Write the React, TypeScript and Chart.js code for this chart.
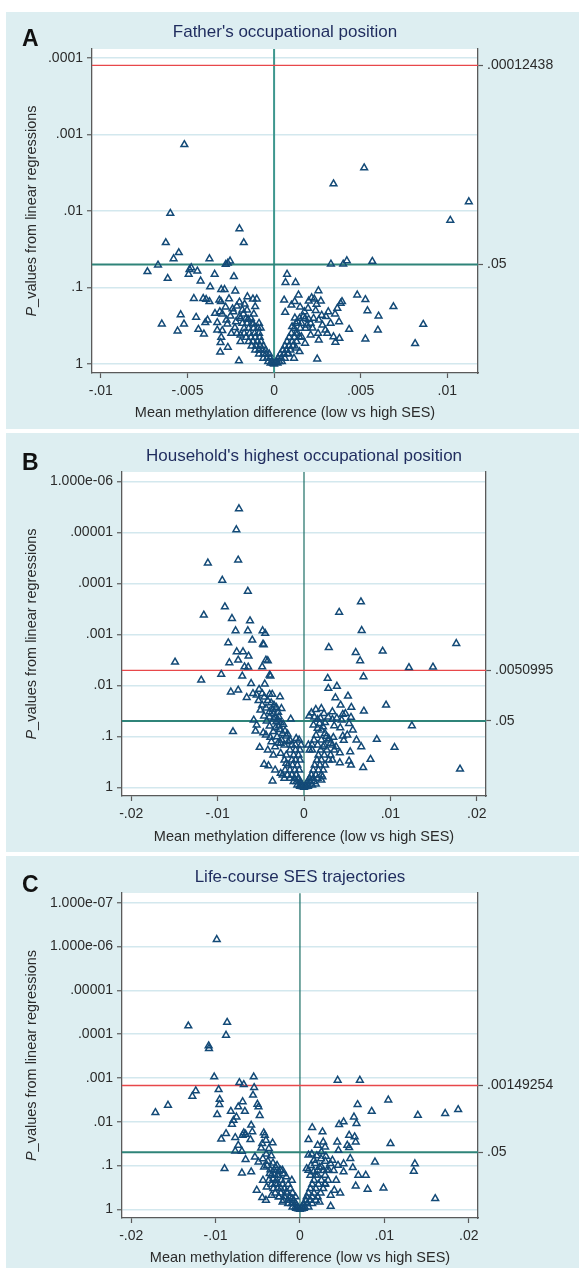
import React, { useEffect, useRef } from "react";
import { Chart, registerables } from "chart.js";
Chart.register(...registerables);

const FONT = '"Liberation Sans", Arial, Helvetica, sans-serif';
const PANEL_BG = "#ddeef1";
const GRID = "#d3e8ee";
const AXIS = "#5a5a5a";
const MARKER = "#134a77";
const RED = "#e8474a";
const GREEN = "#2f8479";
const TITLE_COLOR = "#1f2c5e";
const TEXT = "#2b2b2b";

// ---------- shared labels ----------
const yAxisTitleItalic = "P";
const yAxisTitleRest = "_values from linear regressions";
const xAxisTitle = "Mean methylation difference (low vs high SES)";
const greenP = 0.05;
const greenLabel = ".05";

// ---------- Panel A ----------
const aLetter = "A";
const aTitle = "Father's occupational position";
const aXTicks = [-0.01, -0.005, 0, 0.005, 0.01];
const aXTickLabels = ["-.01", "-.005", "0", ".005", ".01"];
const aYTicks = [1e-4, 1e-3, 1e-2, 1e-1, 1];
const aYTickLabels = [".0001", ".001", ".01", ".1", "1"];
const aRed = 0.00012438;
const aRedLabel = ".00012438";
// [mean difference in 1e-3 units, p-value]
const aPoints: [number, number][] = [
  [-5.18, 1.35e-3], [5.2, 2.72e-3], [3.43, 4.4e-3], [11.24, 7.55e-3], [10.17, 1.32e-2],
  [-5.99, 1.07e-2], [-2.0, 1.7e-2], [-1.75, 2.59e-2], [-6.25, 2.59e-2], [-5.5, 3.5e-2],
  [-5.8, 4.2e-2], [-3.73, 4.2e-2], [-6.7, 5.08e-2], [-7.31, 6.2e-2], [-2.54, 4.5e-2],
  [-2.79, 4.98e-2], [-2.67, 4.8e-2], [-4.78, 5.5e-2], [-4.88, 5.8e-2], [-4.43, 6.1e-2],
  [-4.93, 6.7e-2], [-3.43, 6.7e-2], [-6.14, 7.6e-2], [-2.32, 7.2e-2], [-4.24, 8.2e-2],
  [-3.69, 9.8e-2], [-3.05, 0.106], [-2.86, 0.106], [-2.24, 0.111], [-4.63, 0.139],
  [-4.09, 0.139], [-3.92, 0.143], [-3.73, 0.153], [-3.16, 0.146], [-3.07, 0.153],
  [-1.54, 0.132], [-1.22, 0.141], [-1.0, 0.141], [-2.15, 0.175], [-5.39, 0.227],
  [-4.5, 0.245], [-6.48, 0.3], [-5.2, 0.3], [-5.57, 0.37], [-4.37, 0.352],
  [-4.05, 0.405], [-3.11, 0.7], [-2.03, 0.91], [-2.67, 0.605], [-2.99, 0.366],
  [-3.09, 0.526], [-3.05, 0.448], [-3.41, 0.218], [-3.13, 0.207], [-2.99, 0.222],
  [-3.84, 0.266], [-3.97, 0.288], [-3.28, 0.288], [-3.28, 0.36], [-2.75, 0.266],
  [-2.52, 0.236], [-2.35, 0.207], [-1.83, 0.197], [-1.77, 0.222], [-1.56, 0.197],
  [-1.17, 0.222], [-1.09, 0.178], [-2.26, 0.335], [-2.15, 0.397], [-2.47, 0.397],
  [-1.94, 0.418], [-1.73, 0.397], [-1.94, 0.51], [-0.77, 0.34],
  [-2.6, 0.14], [-2.0, 0.155], [-1.7, 0.165], [-2.8, 0.18], [-2.4, 0.19],
  [-2.0, 0.24], [-1.5, 0.26], [-2.7, 0.3], [-2.2, 0.28], [-1.2, 0.3],
  [3.28, 4.93e-2], [3.99, 4.93e-2], [4.2, 4.46e-2], [5.67, 4.55e-2], [0.75, 6.7e-2],
  [0.66, 8.6e-2], [1.24, 8.6e-2], [2.56, 0.11], [0.58, 0.146], [1.41, 0.125],
  [1.19, 0.153], [2.17, 0.136], [2.32, 0.141], [2.45, 0.166], [0.64, 0.211],
  [4.8, 0.125], [5.27, 0.144], [5.39, 0.201], [6.89, 0.178], [6.03, 0.236],
  [5.99, 0.36], [5.27, 0.471], [8.61, 0.303], [8.14, 0.542], [4.33, 0.352],
  [3.84, 0.161], [3.92, 0.153], [3.65, 0.187], [3.52, 0.222], [3.75, 0.28],
  [3.43, 0.44], [3.77, 0.462], [3.54, 0.52], [2.49, 0.86], [3.13, 0.207],
  [3.26, 0.294], [2.96, 0.36], [2.79, 0.31], [2.58, 0.266], [1.75, 0.207],
  [1.96, 0.187], [1.68, 0.24], [1.36, 0.28], [1.9, 0.31], [2.22, 0.34],
  [2.75, 0.23], [1.04, 0.325], [1.26, 0.397], [1.58, 0.44], [2.11, 0.418],
  [1.79, 0.535], [1.26, 0.62], [1.15, 0.84], [0.83, 0.73], [1.47, 0.69],
  [2.54, 0.397], [3.07, 0.397], [2.58, 0.486],
  [1.0, 0.17], [1.5, 0.18], [2.0, 0.15], [2.7, 0.15], [1.2, 0.25],
  [2.4, 0.2], [3.0, 0.24], [2.0, 0.26],
  [0, 1.0], [-0.06, 0.98], [0.09, 0.96], [-0.2, 0.97], [0.2, 0.97],
];
// dense core: [p-value, mean differences in 1e-3 units]
const aCore: [number, number[]][] = [
  [0.93, [-0.34, -0.13, 0.15, 0.3, 0.45]],
  [0.84, [-0.62, -0.41, -0.23, 0.23, 0.41, 0.62]],
  [0.74, [-0.87, -0.62, -0.45, -0.28, 0.36, 0.58, 0.79]],
  [0.656, [-1.09, -0.87, -0.66, -0.49, 0.51, 0.72, 0.94]],
  [0.582, [-1.3, -1.04, -0.81, -0.62, 0.62, 0.87, 1.09]],
  [0.51, [-1.47, -1.22, -0.96, -0.75, 0.75, 1.04, 1.3]],
  [0.448, [-1.62, -1.34, -1.09, -0.83, 0.87, 1.17, 1.47]],
  [0.397, [-1.41, -1.13, -0.87, 1.0, 1.36]],
  [0.342, [-1.73, -1.47, -1.19, -0.92, 1.17, 1.51, 1.81]],
  [0.294, [-1.83, -1.56, -1.26, -0.87, 1.26, 1.58, 2.11]],
  [0.253, [-1.94, -1.62, -1.34, 1.47, 1.79, 2.28]],
];

// ---------- Panel B ----------
const bLetter = "B";
const bTitle = "Household's highest occupational position";
const bXTicks = [-0.02, -0.01, 0, 0.01, 0.02];
const bXTickLabels = ["-.02", "-.01", "0", ".01", ".02"];
const bYTicks = [1e-6, 1e-5, 1e-4, 1e-3, 1e-2, 1e-1, 1];
const bYTickLabels = ["1.000e-06", ".00001", ".0001", ".001", ".01", ".1", "1"];
const bRed = 0.0050995;
const bRedLabel = ".0050995";
const bPoints: [number, number][] = [
  [-7.53, 3.45e-6], [-7.83, 8.9e-6], [-7.62, 3.5e-5], [-11.13, 4.0e-5], [-9.46, 8.7e-5],
  [-6.5, 1.43e-4], [-9.16, 2.9e-4], [-11.6, 4.2e-4], [-8.34, 4.9e-4], [-6.25, 5.45e-4],
  [-7.92, 8.5e-4], [-6.5, 8.5e-4], [-4.79, 8.5e-4], [-4.49, 9.6e-4], [-5.99, 1.3e-3],
  [-8.77, 1.47e-3], [-4.75, 1.56e-3], [-4.66, 1.6e-3], [-7.79, 2.2e-3], [-7.06, 2.2e-3],
  [-6.42, 2.68e-3], [-7.62, 3.2e-3], [-4.41, 3.2e-3], [-4.19, 3.3e-3], [-8.64, 3.6e-3],
  [-14.93, 3.5e-3], [-6.89, 4.35e-3], [-6.46, 4.4e-3], [-4.84, 4.35e-3], [-9.58, 6.1e-3],
  [-7.15, 6.6e-3], [-3.98, 6.3e-3], [-3.89, 6.6e-3], [-11.9, 7.9e-3], [-6.12, 9.2e-3],
  [-4.54, 9.4e-3], [-8.47, 1.35e-2], [-7.62, 1.24e-2], [-6.63, 1.73e-2], [-5.91, 1.45e-2],
  [-5.48, 1.55e-2], [-4.84, 1.45e-2], [-3.98, 1.5e-2], [-3.68, 1.5e-2], [-2.78, 1.68e-2],
  [-5.26, 2.0e-2], [-4.84, 2.44e-2], [-3.47, 2.45e-2], [-3.21, 2.7e-2], [-2.61, 2.84e-2],
  [-5.05, 3.06e-2], [-3.98, 3.3e-2], [-3.55, 3.56e-2], [-4.62, 4.0e-2], [-3.34, 4.25e-2],
  [-2.91, 4.13e-2], [-1.54, 4.6e-2], [-5.82, 4.8e-2], [-4.32, 5.0e-2], [-3.21, 5.2e-2],
  [-2.7, 5.4e-2], [-5.48, 6.0e-2], [-3.98, 6.3e-2], [-2.91, 6.3e-2], [-5.61, 7.9e-2],
  [-4.71, 8.5e-2], [-3.55, 8.1e-2], [-2.48, 8.8e-2], [-8.22, 8.1e-2], [-4.41, 9.4e-2],
  [-3.12, 0.102], [-2.05, 0.099], [-0.9, 0.11], [-5.13, 0.165], [-4.19, 0.186],
  [-3.34, 0.16], [-2.27, 0.148], [-3.55, 0.233], [-2.7, 0.216], [-1.63, 0.186],
  [-4.62, 0.355], [-4.11, 0.377], [-3.64, 0.75], [-3.34, 0.458], [-2.7, 0.532],
  [-2.05, 0.339], [-1.41, 0.292], [-2.7, 0.137], [-3.77, 0.128], [-1.84, 0.128],
  [-0.98, 0.148],
  [-5.2, 1.2e-2], [-4.6, 1.7e-2], [-4.2, 2.0e-2], [-3.8, 2.2e-2], [-4.4, 2.8e-2],
  [-3.6, 3.0e-2], [-3.0, 3.4e-2], [-4.0, 4.2e-2], [-3.5, 4.6e-2], [-3.0, 4.8e-2],
  [-2.4, 5.8e-2], [-3.3, 6.8e-2], [-2.8, 7.4e-2], [-2.2, 7.9e-2], [-1.9, 0.09],
  [-3.9, 0.105], [-2.6, 0.118], [-1.6, 0.12], [-3.0, 0.135],
  [6.59, 2.31e-4], [4.07, 3.7e-4], [6.68, 8.4e-4], [17.63, 1.51e-3], [2.87, 1.81e-3],
  [5.99, 2.27e-3], [9.11, 2.14e-3], [6.5, 3.3e-3], [12.15, 4.5e-3], [14.93, 4.4e-3],
  [6.89, 6.8e-3], [2.74, 7.3e-3], [2.82, 1.15e-2], [3.81, 1.04e-2], [5.09, 1.63e-2],
  [3.64, 1.75e-2], [4.24, 2.44e-2], [5.48, 2.7e-2], [9.5, 2.44e-2], [6.93, 3.2e-2],
  [0.86, 3.45e-2], [1.37, 2.97e-2], [2.01, 2.84e-2], [2.31, 3.56e-2], [3.29, 3.3e-2],
  [4.49, 3.7e-2], [4.79, 3.56e-2], [1.58, 4.66e-2], [2.44, 5.4e-2], [3.29, 4.66e-2],
  [4.36, 4.8e-2], [5.22, 5.6e-2], [5.44, 4.25e-2], [12.49, 6.2e-2], [5.65, 7.5e-2],
  [5.01, 9.4e-2], [4.49, 9.9e-2], [6.08, 0.118], [8.43, 0.115], [10.48, 0.165],
  [6.63, 0.16], [5.35, 0.2], [4.15, 0.21], [7.7, 0.283], [6.85, 0.41],
  [5.44, 0.366], [5.22, 0.305], [4.15, 0.329], [3.29, 0.292], [18.06, 0.44],
  [2.87, 0.11], [2.44, 0.088], [2.01, 0.075], [3.08, 0.137], [3.72, 0.16],
  [2.23, 0.16], [1.58, 0.07], [1.8, 0.056], [0.51, 0.148], [0.94, 0.186],
  [1.37, 0.86], [2.01, 0.72], [2.14, 0.62],
  [0.6, 4.0e-2], [1.2, 4.2e-2], [1.9, 4.4e-2], [2.8, 4.2e-2], [3.8, 4.4e-2],
  [1.1, 6.0e-2], [2.2, 6.5e-2], [3.5, 6.2e-2], [4.2, 6.8e-2], [1.4, 9.5e-2],
  [2.6, 0.1], [3.4, 0.105], [4.6, 0.12],
  [0, 1.0], [-0.2, 0.97], [0.2, 0.97], [-0.45, 0.95], [0.45, 0.95],
];
const bCore: [number, number[]][] = [
  [0.9, [-0.77, -0.47, -0.21, 0.21, 0.51, 0.94]],
  [0.774, [-1.2, -0.86, -0.47, 0.43, 0.73, 1.16]],
  [0.667, [-2.27, -1.63, -1.11, -0.64, 0.64, 1.07, 1.58]],
  [0.573, [-2.48, -1.93, -1.41, -0.9, 0.86, 1.37, 2.01]],
  [0.458, [-2.18, -1.63, -1.07, -0.56, 1.07, 1.67, 2.23]],
  [0.366, [-1.84, -1.33, -0.77, 1.24, 1.84, 2.44]],
  [0.292, [-2.27, -0.98, -0.47, 1.5, 2.01, 2.87]],
  [0.233, [-2.05, -1.2, -0.64, 1.67, 2.35, 3.08]],
  [0.186, [-0.98, -0.47, 0.64, 1.93, 2.65, 3.51]],
  [0.148, [-1.41, -0.34, 0.94, 1.58, 2.35, 3.29]],
  [0.118, [-0.56, 1.16, 2.01, 2.87]],
];

// ---------- Panel C ----------
const cLetter = "C";
const cTitle = "Life-course SES trajectories";
const cXTicks = [-0.02, -0.01, 0, 0.01, 0.02];
const cXTickLabels = ["-.02", "-.01", "0", ".01", ".02"];
const cYTicks = [1e-7, 1e-6, 1e-5, 1e-4, 1e-3, 1e-2, 1e-1, 1];
const cYTickLabels = ["1.000e-07", "1.000e-06", ".00001", ".0001", ".001", ".01", ".1", "1"];
const cRed = 0.00149254;
const cRedLabel = ".00149254";
const cPoints: [number, number][] = [
  [-9.86, 6.9e-7], [-13.23, 6.5e-5], [-8.63, 5.4e-5], [-8.76, 1.06e-4], [-10.82, 1.85e-4],
  [-10.78, 2.13e-4], [-10.16, 9.5e-4], [-5.48, 9.5e-4], [-7.18, 1.28e-3], [-6.66, 1.42e-3],
  [-9.64, 1.85e-3], [-5.43, 1.66e-3], [-12.35, 1.98e-3], [-12.75, 2.62e-3], [-5.56, 2.48e-3],
  [-9.51, 3.1e-3], [-9.55, 4.06e-3], [-15.64, 4.2e-3], [-17.13, 6.2e-3], [-6.79, 3.5e-3],
  [-5.04, 4.0e-3], [-4.91, 4.6e-3], [-7.31, 4.6e-3], [-6.53, 5.8e-3], [-8.19, 5.8e-3],
  [-9.81, 6.9e-3], [-4.77, 7.2e-3], [-7.53, 7.8e-3], [-7.88, 9.3e-3], [-8.06, 1.14e-2],
  [-5.78, 1.2e-2], [-8.76, 1.87e-2], [-9.33, 2.5e-2], [-6.66, 1.8e-2], [-6.44, 1.93e-2],
  [-6.79, 2.04e-2], [-5.65, 1.7e-2], [-5.87, 2.56e-2], [-4.29, 1.8e-2], [-4.16, 2.04e-2],
  [-4.47, 3.16e-2], [-4.03, 2.65e-2], [-7.67, 2.3e-2], [-7.31, 3.45e-2], [-7.67, 4.65e-2],
  [-6.88, 4.73e-2], [-3.24, 3.05e-2], [-3.68, 4.1e-2], [-8.94, 0.118], [-6.88, 0.148],
  [-5.78, 0.14], [-6.44, 7.3e-2], [-5.34, 6.4e-2], [-4.91, 8.3e-2], [-5.12, 0.368],
  [-4.47, 0.54], [-4.25, 0.108], [-3.59, 0.153], [-4.38, 0.217], [-2.72, 9.9e-2],
  [-2.28, 0.128], [-1.62, 0.182], [-0.96, 0.217], [-3.15, 0.199], [-3.94, 0.309],
  [-2.93, 0.259], [-2.28, 0.337], [-3.37, 0.479], [-2.5, 0.522], [-1.62, 0.402],
  [-0.96, 0.57], [-4.03, 0.62], [-2.06, 0.68],
  [-4.6, 4.0e-2], [-4.0, 5.5e-2], [-3.4, 6.0e-2], [-4.4, 7.0e-2], [-3.8, 8.0e-2],
  [-3.2, 8.8e-2], [-3.9, 0.1], [-2.9, 0.11], [-3.5, 0.125], [-2.5, 0.14],
  [-2.0, 0.155], [-3.0, 0.16],
  [4.47, 1.13e-3], [7.1, 1.13e-3], [10.47, 3.2e-3], [6.83, 4.06e-3], [18.75, 5.3e-3],
  [17.21, 6.5e-3], [8.5, 5.8e-3], [13.97, 7.1e-3], [6.4, 7.8e-3], [6.7, 1.1e-2],
  [5.17, 1.01e-2], [4.64, 1.16e-2], [1.45, 1.36e-2], [2.67, 1.71e-2], [1.01, 2.56e-2],
  [5.83, 2.04e-2], [6.48, 2.22e-2], [6.61, 2.9e-2], [4.42, 2.9e-2], [5.61, 3.45e-2],
  [5.83, 3.9e-2], [10.73, 3.16e-2], [2.76, 2.9e-2], [2.98, 3.77e-2], [2.1, 3.45e-2],
  [2.54, 4.9e-2], [3.07, 6.2e-2], [4.56, 4.5e-2], [3.85, 7.6e-2], [4.51, 9.9e-2],
  [5.17, 9.1e-2], [8.89, 8.3e-2], [13.62, 9.1e-2], [13.49, 0.135], [5.96, 6.9e-2],
  [6.26, 0.112], [5.17, 0.14], [6.92, 0.167], [7.8, 0.167], [6.61, 0.293],
  [8.02, 0.349], [9.9, 0.326], [16.03, 0.57], [4.77, 0.424], [4.07, 0.368],
  [3.64, 0.479], [4.29, 0.217], [3.42, 0.128], [2.54, 0.108], [1.66, 0.076],
  [1.01, 0.058], [0.79, 0.118], [2.1, 0.167], [2.98, 0.259], [2.32, 0.68],
  [3.64, 0.853],
  [1.4, 5.5e-2], [2.0, 6.0e-2], [2.5, 7.0e-2], [3.0, 8.0e-2], [1.8, 9.0e-2],
  [3.6, 9.0e-2], [1.3, 0.1], [2.3, 0.11], [2.8, 0.13], [4.0, 0.13], [1.6, 0.14],
  [0, 1.0], [-0.2, 0.97], [0.2, 0.97], [-0.45, 0.95], [0.45, 0.95],
];
const cCore: [number, number[]][] = [
  [0.885, [-0.88, -0.53, -0.26, 0.26, 0.57, 1.01]],
  [0.743, [-1.4, -0.96, -0.53, 0.44, 0.88, 1.45]],
  [0.622, [-1.93, -1.4, -0.74, 0.7, 1.23, 1.88]],
  [0.522, [-2.5, -1.84, -1.18, -0.53, 0.79, 1.45, 2.1]],
  [0.424, [-2.93, -2.28, -1.49, -0.88, 1.01, 1.66, 2.45]],
  [0.337, [-3.15, -2.63, -1.84, -1.14, 1.23, 1.88, 2.76]],
  [0.268, [-3.37, -2.72, -2.06, -1.4, 1.45, 2.19, 2.98]],
  [0.217, [-3.68, -2.8, -2.19, 1.66, 2.54, 3.33]],
  [0.167, [-3.37, -2.63, 1.23, 1.88, 2.98]],
  [0.128, [-3.07, -2.06, 1.01, 2.1, 3.2]],
];

type PanelCfg = {
  letter: string; title: string;
  points: [number, number][]; core: [number, number[]][];
  xTicks: number[]; xTickLabels: string[];
  yTicks: number[]; yTickLabels: string[];
  red: number; redLabel: string;
  xMin: number; xMax: number; yMin: number; yMax: number;
  top: number; height: number; padTop: number; leftW: number; rightW: number; bottomH: number;
  letterY: number; titleY: number; xTitleY: number; yTitleX: number;
  zeroColor: string; zeroWidth: number;
};

const panels: PanelCfg[] = [
  {
    letter: aLetter, title: aTitle, points: aPoints, core: aCore,
    xTicks: aXTicks, xTickLabels: aXTickLabels, yTicks: aYTicks, yTickLabels: aYTickLabels,
    red: aRed, redLabel: aRedLabel,
    xMin: -0.01051, xMax: 0.01177, yMin: Math.pow(10, -4.12), yMax: Math.pow(10, 0.118),
    top: 12, height: 417, padTop: 37, leftW: 86, rightW: 101, bottomH: 56,
    letterY: 34, titleY: 24.5, xTitleY: 405, yTitleX: 29.5,
    zeroColor: "#3e978e", zeroWidth: 2,
  },
  {
    letter: bLetter, title: bTitle, points: bPoints, core: bCore,
    xTicks: bXTicks, xTickLabels: bXTickLabels, yTicks: bYTicks, yTickLabels: bYTickLabels,
    red: bRed, redLabel: bRedLabel,
    xMin: -0.02107, xMax: 0.02107, yMin: Math.pow(10, -6.182), yMax: Math.pow(10, 0.17),
    top: 433, height: 419, padTop: 39, leftW: 116, rightW: 93, bottomH: 56,
    letterY: 37, titleY: 27.7, xTitleY: 408, yTitleX: 29.5,
    zeroColor: "#1d6f66", zeroWidth: 1.2,
  },
  {
    letter: cLetter, title: cTitle, points: cPoints, core: cCore,
    xTicks: cXTicks, xTickLabels: cXTickLabels, yTicks: cYTicks, yTickLabels: cYTickLabels,
    red: cRed, redLabel: cRedLabel,
    xMin: -0.02109, xMax: 0.0211, yMin: Math.pow(10, -7.215), yMax: Math.pow(10, 0.199),
    top: 856, height: 412, padTop: 37, leftW: 116, rightW: 101, bottomH: 50,
    letterY: 35.7, titleY: 25.7, xTitleY: 406.3, yTitleX: 29.5,
    zeroColor: "#1d6f66", zeroWidth: 1.2,
  },
];

const WIDTH = 573;

function makeTextPlugin(cfg: PanelCfg) {
  return {
    id: "panelText" + cfg.letter,
    beforeDraw(chart: any) {
      const { ctx, chartArea: a, width, height } = chart;
      ctx.save();
      ctx.fillStyle = PANEL_BG;
      ctx.fillRect(0, 0, width, height);
      ctx.fillStyle = "#ffffff";
      ctx.fillRect(a.left, a.top, a.right - a.left, a.bottom - a.top);
      ctx.restore();
    },
    afterDraw(chart: any) {
      const { ctx, chartArea: a } = chart;
      const cx = (a.left + a.right) / 2;
      const cy = (a.top + a.bottom) / 2;
      ctx.save();
      ctx.textBaseline = "alphabetic";
      ctx.fillStyle = "#111111";
      ctx.font = `bold 23px ${FONT}`;
      ctx.textAlign = "left";
      ctx.fillText(cfg.letter, 16, cfg.letterY);
      ctx.fillStyle = TITLE_COLOR;
      ctx.font = `17px ${FONT}`;
      ctx.textAlign = "center";
      ctx.fillText(cfg.title, cx, cfg.titleY);
      ctx.fillStyle = TEXT;
      ctx.font = `14.5px ${FONT}`;
      ctx.fillText(xAxisTitle, cx, cfg.xTitleY);
      ctx.translate(cfg.yTitleX, cy);
      ctx.rotate(-Math.PI / 2);
      ctx.textAlign = "left";
      ctx.font = `italic 14.5px ${FONT}`;
      const w1 = ctx.measureText(yAxisTitleItalic).width;
      ctx.font = `14.5px ${FONT}`;
      const w2 = ctx.measureText(yAxisTitleRest).width;
      const start = -(w1 + w2) / 2;
      ctx.font = `italic 14.5px ${FONT}`;
      ctx.fillText(yAxisTitleItalic, start, 0);
      ctx.font = `14.5px ${FONT}`;
      ctx.fillText(yAxisTitleRest, start + w1, 0);
      ctx.restore();
    },
  };
}

function Panel({ cfg }: { cfg: PanelCfg }) {
  const ref = useRef<HTMLCanvasElement>(null);
  useEffect(() => {
    if (!ref.current) return;
    const all: [number, number][] = [
      ...cfg.points,
      ...cfg.core.flatMap(([p, xs]) => xs.map((x) => [x, p] as [number, number])),
    ];
    const pts = all.map(([x, p]) => ({ x: x / 1000, y: p }));
    const tickFont = { family: FONT, size: 14 };
    const chart = new Chart(ref.current, {
      type: "scatter",
      data: {
        datasets: [
          {
            data: pts,
            pointStyle: "triangle",
            pointRadius: 3.9,
            pointHoverRadius: 3.9,
            pointBorderWidth: 1.5,
            borderColor: MARKER,
            backgroundColor: "rgba(0,0,0,0)",
          } as any,
          {
            data: [{ x: cfg.xMin, y: cfg.red }, { x: cfg.xMax, y: cfg.red }],
            showLine: true, borderColor: RED, borderWidth: 1.4, pointRadius: 0,
          },
          {
            data: [{ x: cfg.xMin, y: greenP }, { x: cfg.xMax, y: greenP }],
            showLine: true, borderColor: GREEN, borderWidth: 2, pointRadius: 0,
          },
          {
            data: [{ x: 0, y: cfg.yMin }, { x: 0, y: cfg.yMax }],
            showLine: true, borderColor: cfg.zeroColor, borderWidth: cfg.zeroWidth, pointRadius: 0,
          },
        ],
      },
      options: {
        responsive: false,
        animation: false,
        events: [],
        layout: { padding: { top: cfg.padTop, left: 0, right: 0, bottom: 0 } },
        plugins: { legend: { display: false }, tooltip: { enabled: false } },
        scales: {
          x: {
            type: "linear",
            position: "bottom",
            min: cfg.xMin,
            max: cfg.xMax,
            afterBuildTicks: (s: any) => { s.ticks = cfg.xTicks.map((v) => ({ value: v })); },
            afterFit: (s: any) => { s.height = cfg.bottomH; },
            ticks: {
              callback: (_v: any, i: number) => cfg.xTickLabels[i],
              font: tickFont, color: TEXT, padding: 5, autoSkip: false, maxRotation: 0,
            },
            grid: { drawOnChartArea: false, drawTicks: true, tickLength: 5, tickColor: AXIS, tickWidth: 1.2 },
            border: { display: true, color: AXIS, width: 1.3 },
          },
          y: {
            type: "logarithmic",
            position: "left",
            reverse: true,
            min: cfg.yMin,
            max: cfg.yMax,
            afterBuildTicks: (s: any) => { s.ticks = cfg.yTicks.map((v) => ({ value: v })); },
            afterFit: (s: any) => { s.width = cfg.leftW; },
            ticks: {
              callback: (_v: any, i: number) => cfg.yTickLabels[i],
              font: tickFont, color: TEXT, padding: 4, autoSkip: false,
            },
            grid: { color: GRID, lineWidth: 1.5, drawTicks: true, tickLength: 5, tickColor: AXIS, tickWidth: 1.2 },
            border: { display: true, color: AXIS, width: 1.3 },
          },
          y2: {
            type: "logarithmic",
            position: "right",
            reverse: true,
            min: cfg.yMin,
            max: cfg.yMax,
            afterBuildTicks: (s: any) => { s.ticks = [{ value: cfg.red }, { value: greenP }]; },
            afterFit: (s: any) => { s.width = cfg.rightW; },
            ticks: {
              callback: (_v: any, i: number) => [cfg.redLabel, greenLabel][i],
              font: tickFont, color: TEXT, padding: 4, autoSkip: false,
            },
            grid: { drawOnChartArea: false, drawTicks: true, tickLength: 5, tickColor: AXIS, tickWidth: 1.2 },
            border: { display: true, color: AXIS, width: 1.3 },
          },
        },
      } as any,
      plugins: [makeTextPlugin(cfg)],
    });
    return () => chart.destroy();
  }, [cfg]);
  return (
    <div style={{ position: "absolute", left: 6, top: cfg.top, width: WIDTH, height: cfg.height, background: PANEL_BG }}>
      <canvas ref={ref} width={WIDTH} height={cfg.height} style={{ display: "block", width: WIDTH, height: cfg.height }} />
    </div>
  );
}

export default function App() {
  return (
    <div>
      {panels.map((p) => (
        <Panel key={p.letter} cfg={p} />
      ))}
    </div>
  );
}
